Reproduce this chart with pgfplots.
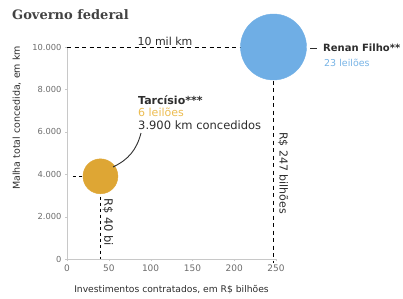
\documentclass[border=0pt]{standalone}
\usepackage{pgfplots}
\pgfplotsset{compat=1.18}
\usepackage{fontspec}
\setmainfont{DejaVu Sans}
\newfontfamily\titlefont{DejaVu Serif}
\definecolor{cblue}{RGB}{111,174,229}
\definecolor{corange}{RGB}{222,166,52}
\definecolor{tblue}{RGB}{120,180,230}
\definecolor{torange}{RGB}{236,188,80}
\definecolor{txt}{RGB}{45,45,45}
\definecolor{axgray}{RGB}{200,200,200}
\begin{document}
\begin{tikzpicture}
\useasboundingbox (-67pt,-39pt) rectangle (336pt,259pt);
\begin{axis}[
  at={(0,0)}, anchor=south west,
  scale only axis, width=209pt, height=212pt,
  xmin=0, xmax=250, ymin=0, ymax=10000,
  axis x line*=bottom, axis y line*=left,
  axis line style={axgray},
  xtick={0,50,...,250}, ytick={0,2000,...,10000},
  scaled y ticks=false, scaled x ticks=false,
  tick style={axgray}, tick align=outside, major tick length=2pt,
  /pgf/number format/.cd, 1000 sep={.}, assume math mode=true,
  /pgfplots/.cd,
  yticklabel style={font=\fontsize{8.3}{10}\selectfont, text=txt!70},
  xticklabel style={font=\fontsize{9}{10}\selectfont, text=txt!70},
  xlabel={Investimentos contratados, em R\$ bilhões},
  ylabel={Malha total concedida, em km},
  x label style={at={(axis description cs:0.5,-0.146)}, anchor=center, font=\fontsize{9.2}{10}\selectfont, text=txt},
  y label style={at={(axis description cs:-0.24,0.665)}, anchor=center, font=\fontsize{9.5}{10}\selectfont, text=txt},
  clip=false,
]
\addplot[only marks, color=cblue, mark=*, mark size=33pt, mark options={fill=cblue, draw=cblue}] coordinates {(247,10000)};
\addplot[only marks, color=corange, mark=*, mark size=17.5pt, mark options={fill=corange, draw=corange}] coordinates {(40,3900)};
\addplot[black, thin, dash pattern=on 4pt off 3.5pt] coordinates {(0,10000) (247,10000) (247,-200)};
\addplot[black, thin, dash pattern=on 3pt off 3pt] coordinates {(7,3900) (40,3900) (40,0)};
\end{axis}
\node[anchor=west, font=\titlefont\bfseries\fontsize{13}{15}\selectfont, text=txt!90, inner sep=0pt] at (-55pt,244pt) {Governo federal};
\node[anchor=south, font=\fontsize{11}{13}\selectfont, text=txt, inner sep=1pt] at (98pt,212.5pt) {10 mil km};
\draw[txt, line width=0.8pt] (243pt,211pt) -- (250pt,211pt);
\node[anchor=west, font=\fontsize{10}{12}\selectfont\bfseries, text=txt, inner sep=0pt] at (256pt,211pt) {Renan Filho**};
\node[anchor=west, font=\fontsize{9.5}{12}\selectfont, text=tblue, inner sep=0pt] at (257pt,196pt) {23 leilões};
\node[anchor=west, font=\fontsize{11}{12}\selectfont\bfseries, text=txt, inner sep=0pt] at (71pt,159pt) {Tarcísio***};
\node[anchor=west, font=\fontsize{11}{12}\selectfont, text=torange, inner sep=0pt] at (71pt,147pt) {6 leilões};
\node[anchor=west, font=\fontsize{11.5}{12}\selectfont, text=txt, inner sep=0pt] at (71pt,134pt) {3.900 km concedidos};
\draw[txt, line width=0.9pt] (46pt,92pt) to[bend right=25] (74pt,126pt);
\node[rotate=-90, font=\fontsize{11.5}{14}\selectfont, text=txt, inner sep=0pt] at (41pt,37pt) {R\$ 40 bi};
\node[rotate=-90, font=\fontsize{11}{12}\selectfont, text=txt, inner sep=0pt] at (216pt,86pt) {R\$ 247 bilhões};
\end{tikzpicture}
\end{document}
